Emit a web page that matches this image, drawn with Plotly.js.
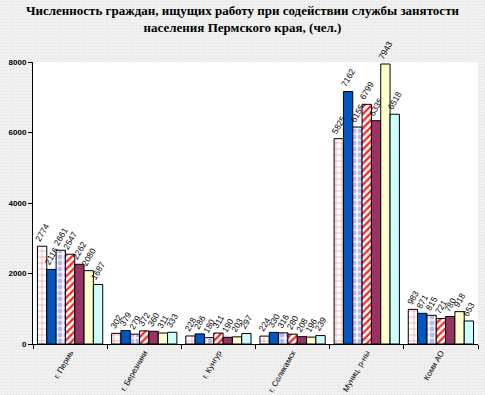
<!DOCTYPE html>
<html><head><meta charset="utf-8">
<script src="https://cdn.plot.ly/plotly-3.0.1.min.js"></script>
<style>
html,body{margin:0;padding:0;}
body{width:485px;height:395px;background-color:#f0f0f0;
background-image:radial-gradient(#e2e2e2 0.6px, transparent 0.7px);background-size:3px 3px;}
#chart{width:485px;height:395px;}
</style></head>
<body><div id="chart"></div>
<script>
const categories = ["г. Пермь", "г. Березники", "г. Кунгур", "г. Соликамск", "Муниц. р-ны", "Коми АО"];
const s1 = [2774, 302, 228, 224, 5825, 983];
const s2 = [2116, 379, 286, 330, 7162, 871];
const s3 = [2661, 279, 180, 316, 6155, 815];
const s4 = [2547, 372, 311, 280, 6799, 721];
const s5 = [2262, 360, 190, 208, 6335, 780];
const s6 = [2080, 311, 203, 196, 7943, 918];
const s7 = [1687, 333, 297, 239, 6518, 653];
const yTicks = [0, 2000, 4000, 6000, 8000];

const styles = [
  {color:'#ffffff', pattern:{shape:'+', fgcolor:'#f06070', bgcolor:'#ffffff', size:6, solidity:0.15}},
  {color:'#0057c2'},
  {color:'#ffffff', pattern:{shape:'.', fgcolor:'#b8b8f0', bgcolor:'#f4f4ff', size:6, solidity:0.5}},
  {color:'#ffffff', pattern:{shape:'/', fgcolor:'#ff2020', bgcolor:'#ffffff', size:5, solidity:0.45}},
  {color:'#993366'},
  {color:'#ffffcc'},
  {color:'#ccffff'}
];
const series = [s1,s2,s3,s4,s5,s6,s7];
const data = series.map((vals,i)=>({
  type:'bar', x:categories, y:vals,
  text: vals.map(String), texttemplate:'%{text}',
  textposition:'outside', textangle:-60, cliponaxis:false, constraintext:'none',
  textfont:{family:'Arial, Liberation Sans', size:8.5, color:'#000'},
  marker:Object.assign({line:{color:'#000', width:1}}, styles[i]),
  hoverinfo:'skip', showlegend:false
}));

const layout = {
  width:485, height:395,
  margin:{l:33, r:7, t:62, b:51},
  paper_bgcolor:'rgba(0,0,0,0)', plot_bgcolor:'#ffffff',
  title:{text:'Численность граждан, ищущих работу при содействии службы занятости<br>населения Пермского края, (чел.)',
    font:{family:'Liberation Serif, Times New Roman', size:13, color:'#000', weight:'bold'},
    x:0.5, xanchor:'center', y:0.962, yanchor:'top'},
  barmode:'group', bargap:0.12, bargroupgap:0,
  xaxis:{type:'category', showline:true, linecolor:'#000', linewidth:1,
    ticks:'outside', tickson:'boundaries', ticklen:4, tickcolor:'#000',
    tickangle:-60, tickfont:{family:'Arial, Liberation Sans', size:8, color:'#000'},
    showgrid:false, zeroline:false},
  yaxis:{range:[0,8000], tickvals:yTicks, ticktext:yTicks.map(String),
    showline:true, linecolor:'#000', linewidth:1, ticks:'outside', ticklen:4, tickcolor:'#000',
    tickfont:{family:'Arial, Liberation Sans', size:8, color:'#000', weight:'bold'},
    showgrid:false, zeroline:false}
};
Plotly.newPlot('chart', data, layout, {displayModeBar:false, staticPlot:true});
</script></body></html>
